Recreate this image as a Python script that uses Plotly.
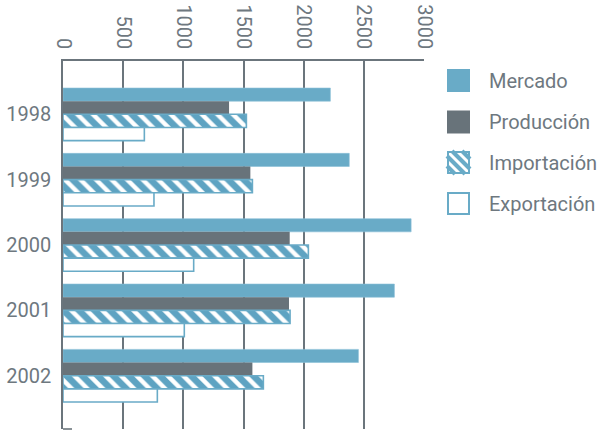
import plotly.graph_objects as go

years = ["1998", "1999", "2000", "2001", "2002"]
mercado = [2222, 2379, 2893, 2754, 2455]
produccion = [1380, 1557, 1884, 1878, 1574]
importacion = [1524, 1574, 2039, 1887, 1665]
exportacion = [676, 756, 1086, 1008, 784]
series_names = ["Mercado", "Producción", "Importación", "Exportación"]
x_ticks = [0, 500, 1000, 1500, 2000, 2500, 3000]

BLUE = "#69abc7"
GREY = "#68737a"
TEXT = "#6e787f"
GRID = "#6b757c"
FONT = "Roboto"
FS = 20
FW = 400

W, H = 602, 434
L, R, T, B = 63, 178, 61, 5
PW, PH = W - L - R, H - T - B


def px(x):
    return (x - L) / PW


def py(y):
    return (H - B - y) / PH


fig = go.Figure()
fig.add_trace(go.Bar(y=years, x=mercado, name=series_names[0], orientation="h",
                     marker=dict(color=BLUE, line=dict(color="#8cc0d6", width=0.6))))
fig.add_trace(go.Bar(y=years, x=produccion, name=series_names[1], orientation="h",
                     marker=dict(color=GREY, line=dict(width=0))))
fig.add_trace(go.Bar(y=years, x=importacion, name=series_names[2], orientation="h",
                     marker=dict(color="white", line=dict(color=BLUE, width=1.6),
                                 pattern=dict(shape="\\", fgcolor="#5ea3c2", bgcolor="white",
                                              size=11, solidity=0.6, fgopacity=1))))
fig.add_trace(go.Bar(y=years, x=exportacion, name=series_names[3], orientation="h",
                     marker=dict(color="white", line=dict(color=BLUE, width=1.6))))

shapes = []
# small bottom-left tick
shapes.append(dict(type="line", xref="paper", yref="paper", x0=0, x1=px(72), y0=0, y1=0,
                   line=dict(color=GRID, width=1.6)))

# legend swatches
s = 23
centers = [80.5, 122, 162.5, 203.5]
sx0 = 447
for i, cy in enumerate(centers):
    y0, y1 = cy - s / 2, cy + s / 2
    if i == 0:
        shapes.append(dict(type="rect", xref="paper", yref="paper", x0=px(sx0), x1=px(sx0 + s),
                           y0=py(y1), y1=py(y0), fillcolor=BLUE, line=dict(width=0)))
    elif i == 1:
        shapes.append(dict(type="rect", xref="paper", yref="paper", x0=px(sx0), x1=px(sx0 + s),
                           y0=py(y1), y1=py(y0), fillcolor=GREY, line=dict(width=0)))
    else:
        shapes.append(dict(type="rect", xref="paper", yref="paper", x0=px(sx0 + 1), x1=px(sx0 + s - 1),
                           y0=py(y1 - 1), y1=py(y0 + 1), fillcolor="white",
                           line=dict(color=BLUE, width=2)))
        if i == 2:
            # diagonal hatch "\" inside the square
            for c in [-15, -5, 5, 15]:
                pts = []
                for t in [0, s]:
                    yo = t - c
                    if 0 <= yo <= s:
                        pts.append((t, yo))
                    xo = t + c
                    if 0 <= xo <= s:
                        pts.append((xo, t))
                pts = sorted(set(pts))
                if len(pts) >= 2:
                    (ax, ay), (bx, by) = pts[0], pts[-1]
                    shapes.append(dict(type="line", xref="paper", yref="paper",
                                       x0=px(sx0 + ax), y0=py(y0 + ay), x1=px(sx0 + bx), y1=py(y0 + by),
                                       line=dict(color=BLUE, width=4)))
            shapes.append(dict(type="rect", xref="paper", yref="paper", x0=px(sx0 + 1), x1=px(sx0 + s - 1),
                               y0=py(y1 - 1), y1=py(y0 + 1), fillcolor="rgba(0,0,0,0)",
                               line=dict(color=BLUE, width=2)))

annotations = []
for name, cy in zip(series_names, centers):
    annotations.append(dict(text=name, xref="paper", yref="paper", x=px(487), y=py(cy),
                            xanchor="left", yanchor="middle", showarrow=False,
                            font=dict(family=FONT, size=FS, color=TEXT, weight=FW)))

fig.update_layout(
    width=W, height=H, autosize=False,
    margin=dict(l=L, r=R, t=T, b=B, pad=0, autoexpand=False),
    paper_bgcolor="white", plot_bgcolor="white",
    barmode="group", bargap=0.195, bargroupgap=0,
    showlegend=False,
    font=dict(family=FONT, size=FS, color=TEXT, weight=FW),
    shapes=shapes, annotations=annotations,
    xaxis=dict(side="top", range=[0, 3000], tickvals=x_ticks, ticktext=[str(v) for v in x_ticks],
               tickangle=90, ticks="", showgrid=True, gridcolor=GRID, gridwidth=1.6,
               showline=True, linecolor=GRID, linewidth=1.6, zeroline=False, automargin=False,
               ticklabelstandoff=3, tickfont=dict(family=FONT, size=FS, color=TEXT, weight=FW)),
    yaxis=dict(type="category", categoryorder="array", categoryarray=years,
               range=[4.816, -0.816], ticks="", showgrid=False, automargin=False,
               showline=True, linecolor=GRID, linewidth=1.6, zeroline=False,
               ticklabelstandoff=6, tickfont=dict(family=FONT, size=FS, color=TEXT, weight=FW)),
)

fig.write_html("out.html", config={"displayModeBar": False},
               post_script="document.body.style.margin='0px';document.body.style.overflow='hidden';")
